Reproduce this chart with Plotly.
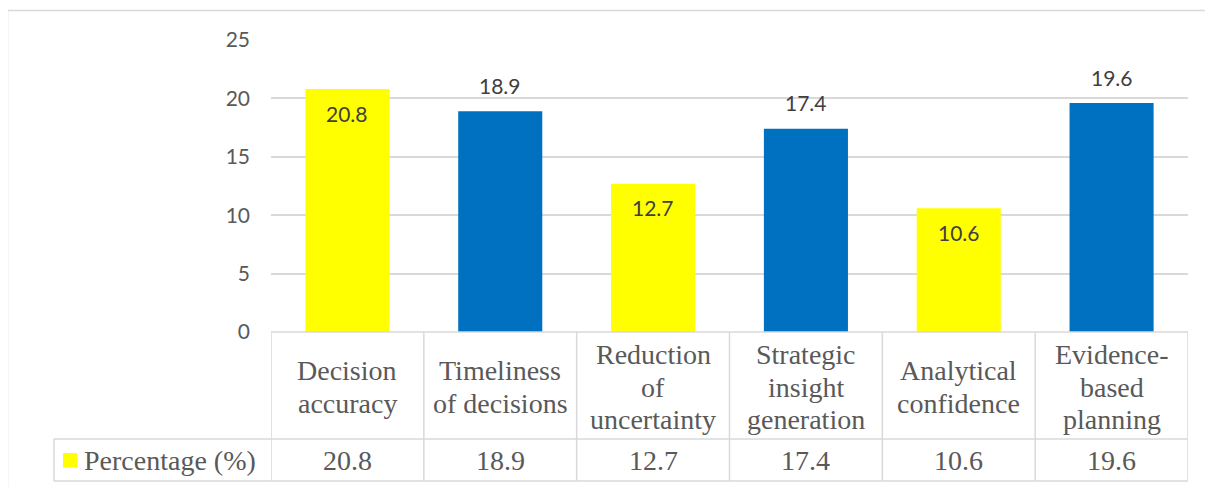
import plotly.graph_objects as go

categories = ["Decision accuracy", "Timeliness of decisions", "Reduction of uncertainty",
              "Strategic insight generation", "Analytical confidence", "Evidence-based planning"]
category_lines = [["Decision", "accuracy"], ["Timeliness", "of decisions"], ["Reduction", "of", "uncertainty"],
                  ["Strategic", "insight", "generation"], ["Analytical", "confidence"], ["Evidence-", "based", "planning"]]
values = [20.8, 18.9, 12.7, 17.4, 10.6, 19.6]
series_name = "Percentage (%)"
y_ticks = [0, 5, 10, 15, 20, 25]

YELLOW = "#FFFF00"
BLUE = "#0070C0"
bar_colors = [YELLOW, BLUE, YELLOW, BLUE, YELLOW, BLUE]

# page offset (browser body margin)
OX, OY = 8, 8
W, H = 1213 - OX, 487 - OY
L, R, T, B = 271, 1188, 40, 332          # plot area in reference pixels
PW, PH = R - L, B - T


def px(x):
    return (x - L) / PW


def py(y):
    return (B - y) / PH


GRID = "#D9D9D9"
TXT = "#595959"
LBL = "#404040"
SANS = "Lato, Liberation Sans, sans-serif"
SERIF = "Liberation Serif, Times New Roman, serif"

fig = go.Figure()
fig.add_trace(go.Bar(
    x=categories, y=values, marker=dict(color=bar_colors, line=dict(width=0)),
    name=series_name, showlegend=False, hoverinfo="x+y",
))

shapes = []
shapes.append(dict(type="rect", xref="paper", yref="paper", x0=px(7.5), x1=px(1214), y0=py(520), y1=py(10.5),
                   line=dict(color=GRID, width=1.5), fillcolor="rgba(0,0,0,0)", layer="below"))
line = dict(color=GRID, width=1.5)
shapes.append(dict(type="line", xref="paper", yref="paper", x0=px(271), x1=px(1188), y0=py(332), y1=py(332), line=line))
shapes.append(dict(type="line", xref="paper", yref="paper", x0=px(54), x1=px(1188), y0=py(439), y1=py(439), line=line))
shapes.append(dict(type="line", xref="paper", yref="paper", x0=px(54), x1=px(1188), y0=py(481), y1=py(481), line=line))
shapes.append(dict(type="line", xref="paper", yref="paper", x0=px(54), x1=px(54), y0=py(439), y1=py(481), line=line))
for i in range(len(categories) + 1):
    xv = i - 0.5
    shapes.append(dict(type="line", xref="x", yref="paper", x0=xv, x1=xv, y0=py(332), y1=py(481), line=line))
shapes.append(dict(type="rect", xref="paper", yref="paper", x0=px(63), x1=px(77.5), y0=py(467.5), y1=py(453),
                   line=dict(width=0), fillcolor=YELLOW))

ann = []
serif = dict(family=SERIF, size=28, color=TXT)
LINE_H = 33
for c, lines, v, col in zip(categories, category_lines, values, bar_colors):
    n = len(lines)
    start = 387 - (n - 1) * LINE_H / 2
    for k, t in enumerate(lines):
        ann.append(dict(x=c, xref="x", y=py(start + k * LINE_H), yref="paper", text=t, showarrow=False,
                        xanchor="center", yanchor="middle", font=serif))
    ann.append(dict(x=c, xref="x", y=py(461), yref="paper", text=f"{v:.1f}", showarrow=False,
                    xanchor="center", yanchor="middle", font=serif))
    # data labels
    inside = col == YELLOW
    ann.append(dict(x=c, xref="x", y=v, yref="y", text=f"{v:.1f}", showarrow=False,
                    xanchor="center", yanchor="middle", yshift=-24 if inside else 26,
                    font=dict(family=SANS, size=21, color=LBL)))
ann.append(dict(x=px(82), xref="paper", y=py(461), yref="paper", text=series_name, showarrow=False,
                xanchor="left", yanchor="middle", font=serif))

fig.update_layout(
    width=W, height=H,
    margin=dict(l=L - OX, r=W - (R - OX), t=T - OY, b=H - (B - OY), pad=0),
    paper_bgcolor="white", plot_bgcolor="white",
    bargap=0.45,
    shapes=shapes, annotations=ann,
    xaxis=dict(range=[-0.5, 5.5], showticklabels=False, showgrid=False, zeroline=False, showline=False, fixedrange=True),
    yaxis=dict(range=[0, 25], tickvals=y_ticks, showgrid=True, gridcolor=GRID, gridwidth=1.5,
               zeroline=False, showline=False, ticks="", ticklabelstandoff=20, fixedrange=True,
               tickfont=dict(family=SANS, size=21, color=TXT)),
)

fig.write_html("out.html")
